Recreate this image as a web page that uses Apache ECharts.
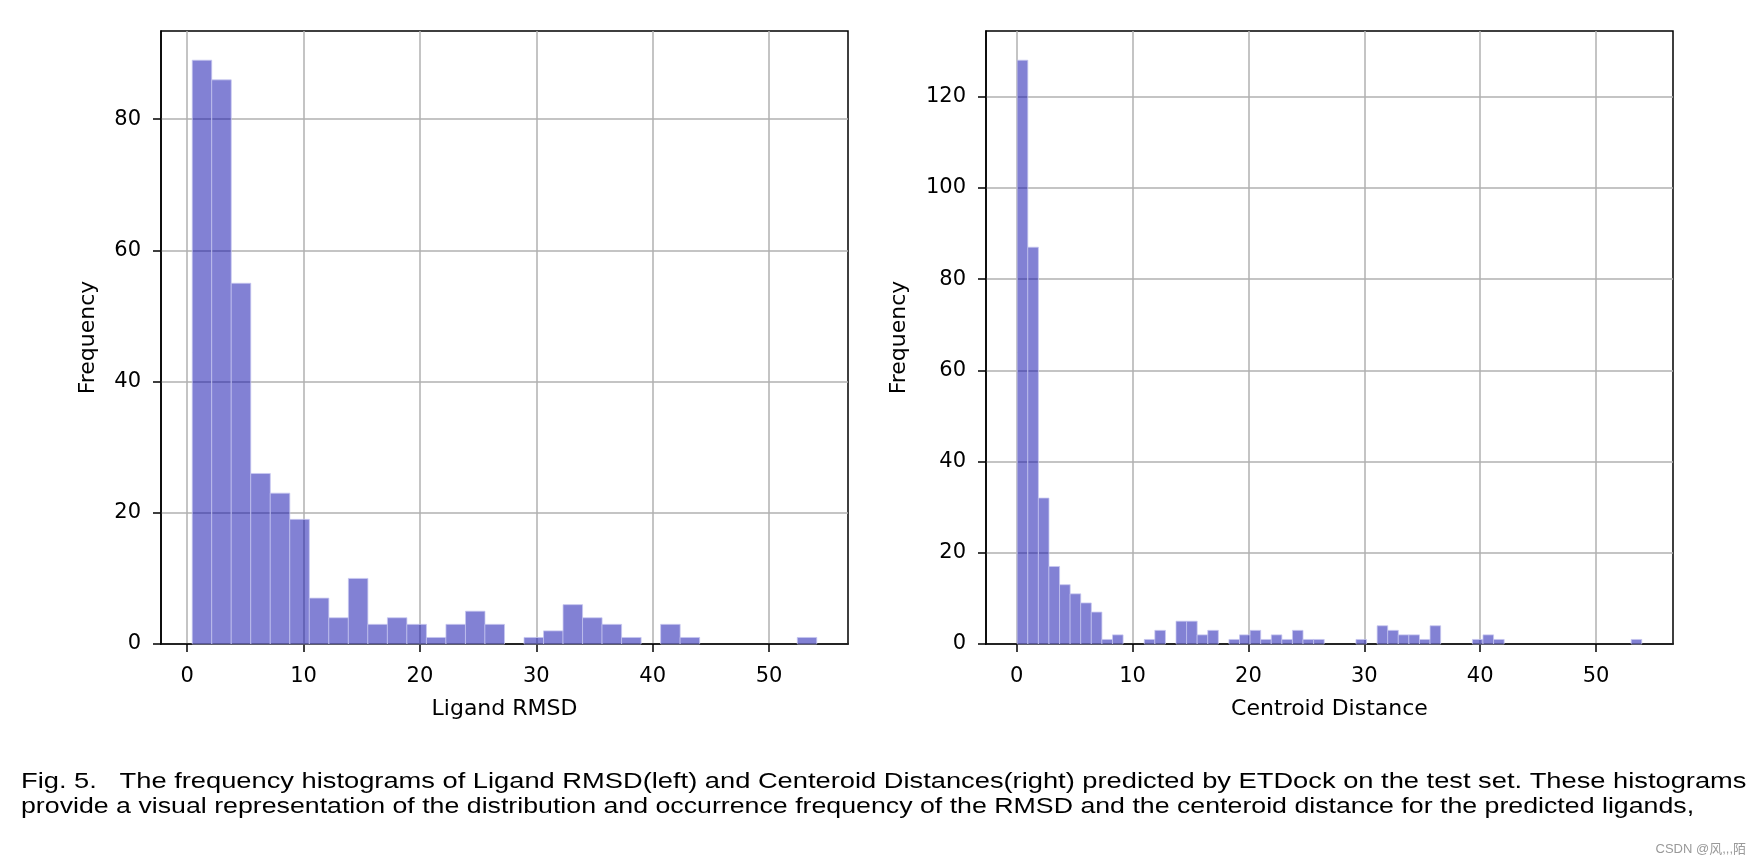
<!DOCTYPE html>
<html>
<head>
<meta charset="utf-8">
<script src="https://cdn.jsdelivr.net/npm/echarts@6/dist/echarts.min.js"></script>
<style>
html,body{margin:0;padding:0;background:#fff;}
#chart{width:1760px;height:868px;}
</style>
</head>
<body>
<div id="chart"></div>
<script>
// ---- data ----
// Ligand RMSD histogram: 32 bins between rmsdLo and rmsdHi
const rmsdLo = 0.43;
const rmsdHi = 54.1;
const rmsdCounts = [89, 86, 55, 26, 23, 19, 7, 4, 10, 3, 4, 3, 1, 3, 5, 3,
                    0, 1, 2, 6, 4, 3, 1, 0, 3, 1, 0, 0, 0, 0, 0, 1];
// Centroid distance histogram: 59 bins between centLo and centHi
const centLo = 0.05;
const centHi = 53.95;
const centCounts = [128, 87, 32, 17, 13, 11, 9, 7, 1, 2, 0, 0, 1, 3, 0, 5, 5, 2, 3, 0,
                    1, 2, 3, 1, 2, 1, 3, 1, 1, 0, 0, 0, 1, 0, 4, 3, 2, 2, 1, 4,
                    0, 0, 0, 1, 2, 1, 0, 0, 0, 0, 0, 0, 0, 0, 0, 0, 0, 0, 1];
const xTicks = [0, 10, 20, 30, 40, 50];
const yTicksLeft = [0, 20, 40, 60, 80];
const yTicksRight = [0, 20, 40, 60, 80, 100, 120];
const xNames = ['Ligand RMSD', 'Centroid Distance'];
const yName = 'Frequency';
const caption1 = 'Fig. 5.   The frequency histograms of Ligand RMSD(left) and Centeroid Distances(right) predicted by ETDock on the test set. These histograms';
const caption2 = 'provide a visual representation of the distribution and occurrence frequency of the RMSD and the centeroid distance for the predicted ligands,';
const watermark = 'CSDN @风,,,陌';

function binTable(lo, hi, counts) {
  const w = (hi - lo) / counts.length;
  return counts.map((c, i) => [lo + i * w, lo + (i + 1) * w, c]);
}

const FONT = 'DejaVu Sans';
const barFill = 'rgba(5,4,170,0.5)';
const barEdge = 'rgba(200,200,240,0.75)';

function renderHist(params, api) {
  const c = api.value(2);
  if (!c) return null;
  const p0 = api.coord([api.value(0), 0]);
  const p1 = api.coord([api.value(1), c]);
  return {
    type: 'rect',
    shape: { x: p0[0], y: p1[1], width: p1[0] - p0[0], height: p0[1] - p1[1] },
    style: { fill: barFill, stroke: barEdge, lineWidth: 1 }
  };
}

function makeX(idx, lo, hi, name) {
  const m = (hi - lo) * 0.05;
  return {
    type: 'value', gridIndex: idx, min: lo - m, max: hi + m,
    name: name, nameLocation: 'middle', nameGap: 54,
    nameTextStyle: { fontFamily: FONT, fontSize: 22, color: '#000' },
    axisLine: { show: true, onZero: false, lineStyle: { color: '#000', width: 1.5 } },
    axisTick: { show: true, length: 8, customValues: xTicks, lineStyle: { color: '#000', width: 1.5 } },
    axisLabel: { customValues: xTicks, margin: 22, fontFamily: FONT, fontSize: 21, color: '#000' },
    splitLine: { show: true, lineStyle: { color: '#b0b0b0', width: 1.5 } }
  };
}
function makeY(idx, maxCount, ticks, gap) {
  return {
    type: 'value', gridIndex: idx, min: 0, max: maxCount * 1.05,
    name: yName, nameLocation: 'middle', nameGap: gap,
    nameTextStyle: { fontFamily: FONT, fontSize: 22, color: '#000' },
    axisLine: { show: true, onZero: false, lineStyle: { color: '#000', width: 1.5 } },
    axisTick: { show: true, length: 8, customValues: ticks, lineStyle: { color: '#000', width: 1.5 } },
    axisLabel: { customValues: ticks, margin: 20, fontFamily: FONT, fontSize: 21, color: '#000' },
    splitLine: { show: true, lineStyle: { color: '#b0b0b0', width: 1.5 } }
  };
}

const chart = echarts.init(document.getElementById('chart'), null, { renderer: 'canvas' });
chart.setOption({
  backgroundColor: '#fff',
  animation: false,
  grid: [
    { left: 161, top: 31, width: 687, height: 613, show: true, borderColor: '#000', borderWidth: 1.5 },
    { left: 986, top: 31, width: 687, height: 613, show: true, borderColor: '#000', borderWidth: 1.5 }
  ],
  xAxis: [makeX(0, rmsdLo, rmsdHi, xNames[0]), makeX(1, centLo, centHi, xNames[1])],
  yAxis: [makeY(0, Math.max(...rmsdCounts), yTicksLeft, 62), makeY(1, Math.max(...centCounts), yTicksRight, 76)],
  series: [
    { type: 'custom', xAxisIndex: 0, yAxisIndex: 0, renderItem: renderHist,
      encode: { x: [0, 1], y: 2 }, data: binTable(rmsdLo, rmsdHi, rmsdCounts), z: 1 },
    { type: 'custom', xAxisIndex: 1, yAxisIndex: 1, renderItem: renderHist,
      encode: { x: [0, 1], y: 2 }, data: binTable(centLo, centHi, centCounts), z: 1 }
  ],
  graphic: [
    { type: 'text', x: 21, y: 771, scaleX: 1.24, style: { text: caption1, fontFamily: 'Liberation Sans', fontSize: 22, fill: '#000' } },
    { type: 'text', x: 21, y: 796, scaleX: 1.215, style: { text: caption2, fontFamily: 'Liberation Sans', fontSize: 22, fill: '#000' } },
    { type: 'text', right: 14, top: 843, style: { text: watermark, fontFamily: 'Liberation Sans, Noto Sans CJK SC', fontSize: 13, fill: '#999' } }
  ]
});
</script>
</body>
</html>
